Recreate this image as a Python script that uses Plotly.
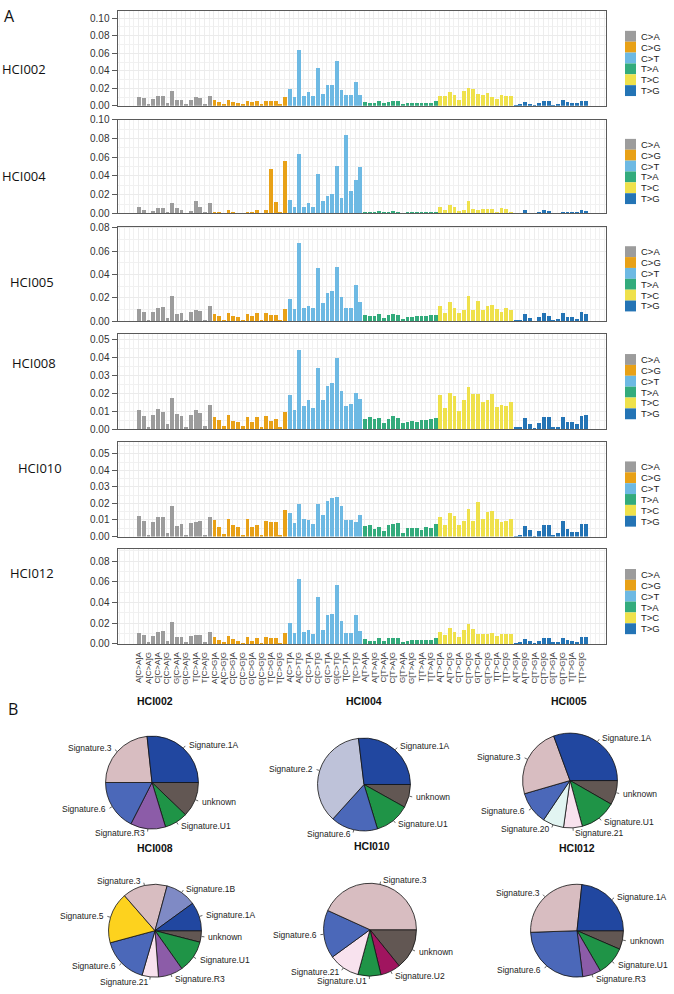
import math
import plotly.graph_objects as go

W, H = 674, 994

mutation_types = ["C>A", "C>G", "C>T", "T>A", "T>C", "T>G"]
type_colors = ["#9C9C9C", "#E8A117", "#6DB9E3", "#33AB7C", "#EFE14B", "#2474B5"]
bases = ["A", "C", "G", "T"]
contexts = [f"{f}[{m}]{t}" for m in mutation_types for f in bases for t in bases]
tick_labels = contexts[::2]

samples = ["HCI002", "HCI004", "HCI005", "HCI008", "HCI010", "HCI012"]

hci002 = [0.0101, 0.0083, 0.0011, 0.0071, 0.0113, 0.0113, 0.0026, 0.0169, 0.0064, 0.0064, 0.0011, 0.0068, 0.0098, 0.0090, 0.0015, 0.0113,
          0.0060, 0.0041, 0.0015, 0.0068, 0.0041, 0.0030, 0.0011, 0.0056, 0.0038, 0.0049, 0.0008, 0.0056, 0.0049, 0.0049, 0.0011, 0.0098,
          0.0190, 0.0100, 0.0630, 0.0110, 0.0150, 0.0110, 0.0430, 0.0130, 0.0240, 0.0240, 0.0510, 0.0180, 0.0117, 0.0117, 0.0274, 0.0124,
          0.0038, 0.0030, 0.0030, 0.0049, 0.0026, 0.0041, 0.0049, 0.0049, 0.0023, 0.0026, 0.0030, 0.0034, 0.0034, 0.0034, 0.0030, 0.0049,
          0.0113, 0.0113, 0.0154, 0.0124, 0.0068, 0.0169, 0.0199, 0.0192, 0.0132, 0.0116, 0.0139, 0.0101, 0.0079, 0.0116, 0.0113, 0.0113,
          0.0005, 0.0020, 0.0040, 0.0020, 0.0005, 0.0030, 0.0050, 0.0050, 0.0005, 0.0020, 0.0060, 0.0040, 0.0030, 0.0030, 0.0050, 0.0050]
hci004 = [0.0075, 0.0043, 0.0007, 0.0032, 0.0064, 0.0060, 0.0014, 0.0121, 0.0060, 0.0046, 0.0004, 0.0032, 0.0139, 0.0078, 0.0014, 0.0121,
          0.0021, 0.0018, 0.0004, 0.0036, 0.0014, 0.0007, 0.0004, 0.0021, 0.0014, 0.0039, 0.0002, 0.0036, 0.0473, 0.0125, 0.0014, 0.0566,
          0.0149, 0.0071, 0.0633, 0.0078, 0.0121, 0.0078, 0.0420, 0.0132, 0.0189, 0.0210, 0.0505, 0.0164, 0.0840, 0.0246, 0.0359, 0.0502,
          0.0025, 0.0018, 0.0021, 0.0028, 0.0014, 0.0021, 0.0032, 0.0018, 0.0007, 0.0011, 0.0018, 0.0018, 0.0025, 0.0021, 0.0025, 0.0025,
          0.0078, 0.0043, 0.0093, 0.0071, 0.0028, 0.0046, 0.0132, 0.0053, 0.0046, 0.0053, 0.0053, 0.0057, 0.0025, 0.0064, 0.0050, 0.0021,
          0.0004, 0.0004, 0.0036, 0.0007, 0.0001, 0.0014, 0.0039, 0.0028, 0.0004, 0.0007, 0.0021, 0.0021, 0.0018, 0.0018, 0.0046, 0.0032]
hci005 = [0.0110, 0.0085, 0.0011, 0.0079, 0.0115, 0.0121, 0.0031, 0.0217, 0.0068, 0.0070, 0.0014, 0.0079, 0.0096, 0.0087, 0.0017, 0.0135,
          0.0068, 0.0048, 0.0017, 0.0076, 0.0051, 0.0039, 0.0014, 0.0068, 0.0045, 0.0070, 0.0008, 0.0076, 0.0059, 0.0054, 0.0011, 0.0107,
          0.0194, 0.0104, 0.0676, 0.0118, 0.0130, 0.0113, 0.0456, 0.0158, 0.0242, 0.0265, 0.0468, 0.0211, 0.0113, 0.0115, 0.0310, 0.0169,
          0.0056, 0.0051, 0.0045, 0.0065, 0.0034, 0.0056, 0.0065, 0.0056, 0.0025, 0.0039, 0.0042, 0.0045, 0.0048, 0.0045, 0.0054, 0.0059,
          0.0130, 0.0076, 0.0169, 0.0118, 0.0070, 0.0099, 0.0220, 0.0101, 0.0177, 0.0101, 0.0135, 0.0138, 0.0107, 0.0085, 0.0118, 0.0101,
          0.0006, 0.0014, 0.0068, 0.0031, 0.0003, 0.0039, 0.0076, 0.0051, 0.0011, 0.0025, 0.0073, 0.0039, 0.0037, 0.0025, 0.0079, 0.0062]
hci008 = [0.0103, 0.0071, 0.0007, 0.0075, 0.0112, 0.0095, 0.0029, 0.0174, 0.0081, 0.0071, 0.0011, 0.0077, 0.0106, 0.0086, 0.0018, 0.0130,
          0.0068, 0.0048, 0.0015, 0.0075, 0.0046, 0.0038, 0.0015, 0.0066, 0.0038, 0.0064, 0.0007, 0.0070, 0.0046, 0.0053, 0.0009, 0.0093,
          0.0190, 0.0106, 0.0438, 0.0125, 0.0159, 0.0117, 0.0337, 0.0163, 0.0238, 0.0256, 0.0394, 0.0212, 0.0125, 0.0136, 0.0201, 0.0167,
          0.0057, 0.0064, 0.0057, 0.0062, 0.0033, 0.0053, 0.0070, 0.0060, 0.0033, 0.0037, 0.0046, 0.0040, 0.0048, 0.0049, 0.0053, 0.0062,
          0.0190, 0.0115, 0.0201, 0.0183, 0.0097, 0.0158, 0.0234, 0.0194, 0.0194, 0.0148, 0.0163, 0.0192, 0.0119, 0.0134, 0.0128, 0.0147,
          0.0007, 0.0009, 0.0062, 0.0026, 0.0002, 0.0031, 0.0068, 0.0068, 0.0007, 0.0013, 0.0064, 0.0037, 0.0037, 0.0026, 0.0071, 0.0077]
hci010 = [0.0127, 0.0096, 0.0006, 0.0092, 0.0120, 0.0120, 0.0026, 0.0185, 0.0064, 0.0078, 0.0006, 0.0086, 0.0092, 0.0094, 0.0010, 0.0118,
          0.0104, 0.0058, 0.0018, 0.0108, 0.0072, 0.0058, 0.0014, 0.0110, 0.0058, 0.0072, 0.0008, 0.0098, 0.0090, 0.0088, 0.0012, 0.0163,
          0.0147, 0.0082, 0.0197, 0.0110, 0.0102, 0.0078, 0.0201, 0.0133, 0.0217, 0.0233, 0.0241, 0.0187, 0.0104, 0.0104, 0.0088, 0.0133,
          0.0066, 0.0074, 0.0050, 0.0060, 0.0038, 0.0074, 0.0080, 0.0082, 0.0026, 0.0052, 0.0052, 0.0052, 0.0042, 0.0058, 0.0056, 0.0078,
          0.0122, 0.0070, 0.0145, 0.0127, 0.0074, 0.0094, 0.0171, 0.0094, 0.0209, 0.0110, 0.0153, 0.0155, 0.0110, 0.0092, 0.0098, 0.0108,
          0.0004, 0.0014, 0.0066, 0.0040, 0.0001, 0.0036, 0.0074, 0.0072, 0.0014, 0.0026, 0.0096, 0.0048, 0.0032, 0.0032, 0.0080, 0.0080]
hci012 = [0.0102, 0.0080, 0.0006, 0.0073, 0.0115, 0.0124, 0.0025, 0.0213, 0.0061, 0.0064, 0.0006, 0.0073, 0.0086, 0.0083, 0.0013, 0.0111,
          0.0060, 0.0038, 0.0010, 0.0070, 0.0041, 0.0029, 0.0003, 0.0064, 0.0029, 0.0054, 0.0003, 0.0064, 0.0051, 0.0051, 0.0003, 0.0105,
          0.0201, 0.0099, 0.0621, 0.0115, 0.0134, 0.0096, 0.0452, 0.0134, 0.0277, 0.0287, 0.0570, 0.0220, 0.0105, 0.0105, 0.0274, 0.0121,
          0.0041, 0.0029, 0.0029, 0.0057, 0.0025, 0.0051, 0.0051, 0.0051, 0.0019, 0.0025, 0.0032, 0.0035, 0.0035, 0.0035, 0.0038, 0.0051,
          0.0108, 0.0083, 0.0153, 0.0111, 0.0060, 0.0134, 0.0194, 0.0140, 0.0092, 0.0092, 0.0092, 0.0105, 0.0070, 0.0092, 0.0096, 0.0096,
          0.0003, 0.0006, 0.0045, 0.0025, 0.0003, 0.0025, 0.0054, 0.0054, 0.0006, 0.0013, 0.0057, 0.0032, 0.0025, 0.0019, 0.0061, 0.0064]
profiles = [hci002, hci004, hci005, hci008, hci010, hci012]

# signature pies (fractions, in counter-clockwise order starting at 3 o'clock)
sig_colors = {
    "Signature.1A": "#2147A0", "Signature.1B": "#7F8AC5", "Signature.2": "#BEC2D9",
    "Signature.3": "#D8BDC1", "Signature.5": "#FDD21E", "Signature.6": "#4B68B9",
    "Signature.20": "#E2F5F2", "Signature.21": "#F8E2EE", "Signature.R3": "#8C5CA8",
    "Signature.U1": "#1F9447", "Signature.U2": "#A0155F", "unknown": "#625753",
}
pie_titles = ["HCI008", "HCI010", "HCI012", "", "", ""]
pie1_labels = ["Signature.1A", "Signature.3", "Signature.6", "Signature.R3", "Signature.U1", "unknown"]
pie1_values = [0.267, 0.233, 0.175, 0.122, 0.081, 0.122]
pie2_labels = ["Signature.1A", "Signature.2", "Signature.6", "Signature.U1", "unknown"]
pie2_values = [0.269, 0.364, 0.164, 0.122, 0.081]
pie3_labels = ["Signature.1A", "Signature.3", "Signature.6", "Signature.20", "Signature.21", "Signature.U1", "unknown"]
pie3_values = [0.306, 0.239, 0.111, 0.072, 0.064, 0.125, 0.083]
pie4_labels = ["Signature.1A", "Signature.1B", "Signature.3", "Signature.5", "Signature.6", "Signature.21", "Signature.R3", "Signature.U1", "unknown"]
pie4_values = [0.100, 0.108, 0.156, 0.178, 0.163, 0.057, 0.086, 0.112, 0.040]
pie5_labels = ["Signature.3", "Signature.6", "Signature.21", "Signature.U1", "Signature.U2", "unknown"]
pie5_values = [0.432, 0.168, 0.108, 0.080, 0.070, 0.142]
pie6_labels = ["Signature.1A", "Signature.3", "Signature.6", "Signature.R3", "Signature.U1", "unknown"]
pie6_values = [0.233, 0.272, 0.264, 0.064, 0.101, 0.065]
pie_labels = [pie1_labels, pie2_labels, pie3_labels, pie4_labels, pie5_labels, pie6_labels]
pie_values = [pie1_values, pie2_values, pie3_values, pie4_values, pie5_values, pie6_values]


def px(x):
    return x / W


def py(y):
    return 1 - y / H


FONT = "Liberation Sans, Arial, sans-serif"

fig = go.Figure()

# panel geometry (pixels)
panel_px = [(5.3, 101), (115, 210), (223.3, 319), (332.3, 428.3), (441, 537), (550, 645.7)]
y_tops = [0.108, 0.100, 0.081, 0.0527, 0.0574, 0.0915]
y_dticks = [0.02, 0.02, 0.02, 0.01, 0.01, 0.02]
x_dom = [px(117.5), px(606)]
label_pos = [(0, 64), (0, 172), (8, 279), (10, 361), (16, 468), (8, 574)]

xs = list(range(len(contexts)))
annotations = []
shapes = []
for k, (name, prof) in enumerate(zip(samples, profiles)):
    sfx = "" if k == 0 else str(k + 1)
    for t, m in enumerate(mutation_types):
        sl = slice(t * 16, (t + 1) * 16)
        fig.add_trace(go.Bar(
            x=xs[sl], y=prof[sl], marker=dict(color=type_colors[t], line=dict(width=0)),
            width=0.8, xaxis="x" + sfx, yaxis="y" + sfx, showlegend=False, name=m))
    top, bot = panel_px[k]
    last = (k == len(samples) - 1)
    fig.layout["xaxis" + sfx] = dict(
        domain=x_dom, anchor="y" + sfx, range=[-4.5, 99.3],
        tickmode="array", tickvals=xs[::2], ticktext=tick_labels,
        showticklabels=last, tickangle=-90,
        tickfont=dict(family=FONT, size=8, color="#333"),
        ticks="outside" if last else "", ticklen=4, tickcolor="rgba(0,0,0,0)",
        showgrid=True, gridcolor="#ededed", gridwidth=1,
        minor=dict(tickmode="linear", tick0=0, dtick=1, showgrid=True, gridcolor="#f1f1f1", ticks=""),
        showline=True, mirror=True, linecolor="#5a5a5a", linewidth=1, zeroline=False,
    )
    fig.layout["yaxis" + sfx] = dict(
        domain=[py(bot), py(top)], anchor="x" + sfx, range=[0, y_tops[k]],
        tickmode="linear", tick0=0, dtick=y_dticks[k], tickformat=".2f",
        tickfont=dict(family=FONT, size=10, color="#333"),
        ticks="outside", ticklen=5, tickcolor="#5a5a5a",
        showgrid=True, gridcolor="#ebebeb", gridwidth=1,
        minor=dict(tickmode="linear", tick0=0, dtick=y_dticks[k] / 2, showgrid=True, gridcolor="#f1f1f1", ticks=""),
        showline=True, mirror=True, linecolor="#5a5a5a", linewidth=1, zeroline=False,
    )
    lx, ly = label_pos[k]
    annotations.append(dict(x=px(lx), y=py(ly), xref="paper", yref="paper", text=name,
                            showarrow=False, xanchor="left", yanchor="middle",
                            font=dict(family="Open Sans, sans-serif", size=13, color="#111")))
    # legend (drawn per panel)
    ltop = (top + bot) / 2 - 28
    for t, m in enumerate(mutation_types):
        y0 = ltop + t * 11
        shapes.append(dict(type="rect", xref="paper", yref="paper",
                           x0=px(625), x1=px(636), y0=py(y0 + 11), y1=py(y0),
                           fillcolor=type_colors[t], line=dict(width=0)))
        annotations.append(dict(x=px(639), y=py(y0 + 5.5), xref="paper", yref="paper", text=m,
                                showarrow=False, xanchor="left", yanchor="middle",
                                font=dict(family=FONT, size=9.5, color="#222")))

# group labels under x axis
for name, xx, anc in [("HCI002", 135, "left"), ("HCI004", 364, "center"), ("HCI005", 589, "right")]:
    annotations.append(dict(x=px(xx), y=py(703), xref="paper", yref="paper", text="<b>%s</b>" % name,
                            showarrow=False, xanchor=anc, yanchor="middle",
                            font=dict(family=FONT, size=10.5, color="#111")))

annotations.append(dict(x=px(2), y=py(10), xref="paper", yref="paper", text="A", showarrow=False,
                        xanchor="left", yanchor="middle", font=dict(family="Open Sans, sans-serif", size=16, color="#111")))
annotations.append(dict(x=px(6), y=py(712), xref="paper", yref="paper", text="B", showarrow=False,
                        xanchor="left", yanchor="middle", font=dict(family="Open Sans, sans-serif", size=16, color="#111")))

# pies: R-style (start at 3 o'clock, counter-clockwise) -> reversed order, clockwise
pie_geom = [(152, 786, 47), (364, 788, 47), (570, 784, 48), (155, 936, 47), (370, 935, 47), (577, 936, 47)]
title_pos = [(155, 852), (372, 850), (577, 852)]
for j in range(6):
    cx, cy, r = pie_geom[j]
    labs = pie_labels[j][::-1]
    vals = pie_values[j][::-1]
    fig.add_trace(go.Pie(
        labels=labs, values=vals, sort=False, direction="clockwise",
        rotation=90, textinfo="none",
        marker=dict(colors=[sig_colors[s] for s in labs], line=dict(color="#111", width=0.8)),
        domain=dict(x=[px(cx - r), px(cx + r)], y=[py(cy + r), py(cy - r)]),
        showlegend=False, hoverinfo="label+percent",
    ))
    # R-style labels: at 1.1 r on each slice's mid-angle, with a short leader line
    total = sum(pie_values[j])
    cum = 0.0
    for lab, v in zip(pie_labels[j], pie_values[j]):
        mid = 2 * math.pi * (cum + v / 2) / total
        cum += v
        c, s = math.cos(mid), math.sin(mid)
        shapes.append(dict(type="line", xref="paper", yref="paper",
                           x0=px(cx + r * c), y0=py(cy - r * s),
                           x1=px(cx + 1.06 * r * c), y1=py(cy - 1.06 * r * s),
                           line=dict(color="#222", width=0.7)))
        annotations.append(dict(x=px(cx + 1.1 * r * c), y=py(cy - 1.1 * r * s), xref="paper", yref="paper",
                                text=lab, showarrow=False, xanchor="left" if c >= 0 else "right",
                                yanchor="middle", font=dict(family=FONT, size=8.5, color="#222")))
for j, (tx, ty) in enumerate(title_pos):
    annotations.append(dict(x=px(tx), y=py(ty), xref="paper", yref="paper", text="<b>%s</b>" % pie_titles[j],
                            showarrow=False, xanchor="center", yanchor="middle",
                            font=dict(family=FONT, size=10.5, color="#111")))

fig.update_layout(
    width=W, height=H, margin=dict(l=0, r=0, t=0, b=0),
    paper_bgcolor="white", plot_bgcolor="white",
    bargap=0, annotations=annotations, shapes=shapes,
)
fig.write_html("out.html", config={"displayModeBar": False},
               post_script="document.body.style.margin='0';document.body.style.overflow='hidden';")
